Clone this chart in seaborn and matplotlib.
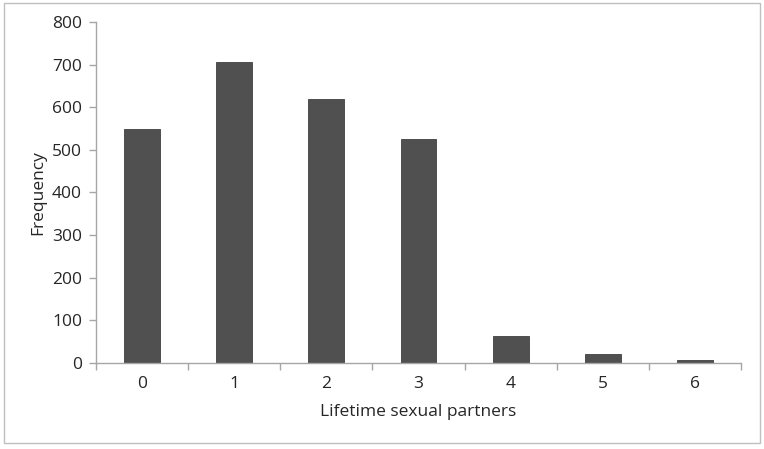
import matplotlib
matplotlib.use("Agg")
import matplotlib.pyplot as plt
from matplotlib.patches import Rectangle
import pandas as pd
import seaborn as sns

# ── Data ───────────────────────────────────────────────────────────────────
partners  = ["0", "1", "2", "3", "4", "5", "6"]
frequency = [549, 706, 620, 526, 63, 20, 8]
y_ticks   = [0, 100, 200, 300, 400, 500, 600, 700, 800]

df = pd.DataFrame({"partners": partners, "frequency": frequency})

# ── Style ──────────────────────────────────────────────────────────────────
sns.set_style("white")
plt.rcParams["font.family"] = ["Open Sans", "DejaVu Sans"]
AXIS_GREY = "#a6a6a6"
TEXT_COL  = "#262626"
FS = 12.5

fig = plt.figure(figsize=(7.64, 4.49), dpi=100)
ax = fig.add_axes([96 / 764, 86 / 449, 645 / 764, 341 / 449])

sns.barplot(data=df, x="partners", y="frequency", color="#505050",
            saturation=1, width=0.39, edgecolor="#404040", linewidth=0.6, ax=ax)

ax.set_xlim(-0.5, len(partners) - 0.5)
ax.set_ylim(0, 800)
ax.set_yticks(y_ticks)
ax.set_yticklabels([str(v) for v in y_ticks], fontsize=FS, color=TEXT_COL)

# ticks at category boundaries, labels at centres
ax.set_xticks([i - 0.5 for i in range(len(partners) + 1)])
ax.set_xticklabels([])
ax.set_xticks(range(len(partners)), minor=True)
ax.set_xticklabels(partners, minor=True, fontsize=FS, color=TEXT_COL)
ax.tick_params(axis="x", which="major", bottom=True, length=5, width=1,
               color=AXIS_GREY, direction="out")
ax.tick_params(axis="x", which="minor", bottom=True, length=0, pad=9)
ax.tick_params(axis="y", which="major", left=True, length=5, width=1,
               color=AXIS_GREY, direction="out", pad=5)

for side in ["top", "right"]:
    ax.spines[side].set_visible(False)
for side in ["left", "bottom"]:
    ax.spines[side].set_color(AXIS_GREY)
    ax.spines[side].set_linewidth(1.0)

ax.set_xlabel("Lifetime sexual partners", fontsize=FS, color=TEXT_COL, labelpad=9)
ax.set_ylabel("Frequency", fontsize=FS, color=TEXT_COL, labelpad=4)

# outer chart frame
fig.patches.append(Rectangle((4 / 764, 6 / 449), 756 / 764, 440 / 449,
                             transform=fig.transFigure, fill=False,
                             edgecolor="#bfbfbf", linewidth=1.0))

fig.savefig("out.png", dpi=100)
